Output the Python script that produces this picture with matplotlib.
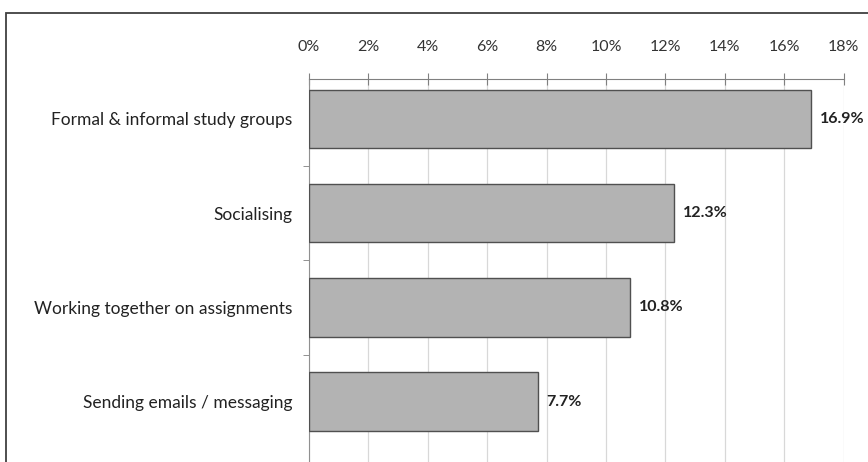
"""Horizontal bar chart of study activities."""

import matplotlib
matplotlib.use("Agg")
import matplotlib.pyplot as plt
from matplotlib.patches import Rectangle
import numpy as np

categories = [
    "Formal & informal study groups",
    "Socialising",
    "Working together on assignments",
    "Sending emails / messaging",
]
values = [16.9, 12.3, 10.8, 7.7]
xticks = [0, 2, 4, 6, 8, 10, 12, 14, 16, 18]

plt.rcParams["font.family"] = ["Lato", "DejaVu Sans"]


def run():
    fig = plt.figure(figsize=(8.68, 4.62), dpi=100)
    ax = fig.add_axes([0.356, 0.0, 0.616, 0.829])

    # outer frame, cut by the picture edge
    fig.patches.append(Rectangle((6 / 868, -0.1), 1.1, 0.1 + (462 - 13) / 462,
                                 transform=fig.transFigure, fill=False,
                                 edgecolor="#404040", linewidth=1.3, zorder=0))

    y = np.arange(len(categories))
    ax.barh(y, values, height=0.62, color="#b3b3b3", edgecolor="#505050",
            linewidth=1.0, zorder=3)
    for yi, v in zip(y, values):
        ax.text(v + 0.3, yi, f"{v:.1f}%", va="center", ha="left",
                fontsize=11.5, fontweight="bold", color="#222222")

    ax.set_xlim(0, 18)
    ax.set_ylim(3.64, -0.424)
    ax.set_xticks(xticks)
    ax.set_xticklabels([f"{t}%" for t in xticks], fontsize=11.5, color="#333333")
    ax.xaxis.tick_top()
    ax.tick_params(axis="x", direction="inout", length=8, color="#808080", pad=14)
    ax.set_yticks(y)
    ax.set_yticklabels(categories, fontsize=12.5, color="#222222")
    ax.tick_params(axis="y", length=0, pad=12)
    ax.set_yticks(np.arange(1, len(categories)) - 0.5, minor=True)
    ax.tick_params(axis="y", which="minor", length=4, direction="out", color="#808080")

    ax.grid(axis="x", color="#d8d8d8", linewidth=0.9, zorder=0)
    for s in ["right", "bottom"]:
        ax.spines[s].set_visible(False)
    ax.spines["top"].set_color("#808080")
    ax.spines["left"].set_color("#909090")

    fig.savefig("out.png", dpi=100)


if __name__ == "__main__":
    run()
